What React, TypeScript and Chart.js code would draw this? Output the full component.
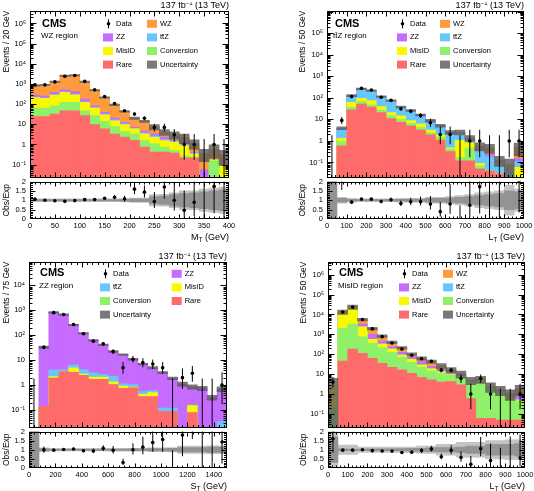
import React, { useEffect, useRef } from "react";
import { Chart, registerables } from "chart.js";

Chart.register(...registerables);

const FONT = "'Liberation Sans', Arial, Helvetica, sans-serif";

const COL = {
  rare: "#ff6a6a",
  conv: "#8ff06a",
  misid: "#f8f800",
  ttz: "#66c7ff",
  zz: "#c66bff",
  wz: "#ff9a3d",
  unc: "rgba(92,92,92,0.82)",
  bandOut: "#c4c4c4",
  bandIn: "#939393",
};

// ---------------- WZ region (M_T, 20 GeV bins) ----------------
const wzCenters = [10, 30, 50, 70, 90, 110, 130, 150, 170, 190, 210, 230, 250, 270, 290, 310, 330, 350, 370, 390];
const wzXLabels = [0, 50, 100, 150, 200, 250, 300, 350, 400];
const wzData = [900, 900, 1270, 2400, 2650, 1340, 510, 237, 107, 47, 32, 20, 7, 7, 3, 1, 1, 0, 1, 0];
const wzRare = [24, 24, 32, 47, 47, 27, 9.7, 5.9, 3.3, 2.3, 1.6, 0.74, 0.42, 0.42, 0.37, 0.22, 0.22, 0.005, 0.005, 0.005];
const wzConv = [40, 40, 50, 75, 75, 20, 17, 8, 4.4, 2.2, 1.8, 0.83, 0.66, 0.32, 0.14, 0.05, 0.02, 0, 0.15, 0.01];
const wzMisid = [150, 130, 200, 260, 168, 75, 37, 16, 7.3, 5.2, 2.5, 1.8, 1.2, 0.8, 0.8, 0.6, 0.1, 0, 0.02, 0.07];
const wzTtz = [6, 6, 8, 10, 10, 6, 4, 2, 1.5, 1, 0.5, 0.4, 0.3, 0.2, 0.15, 0.1, 0.03, 0, 0, 0];
const wzZz = [60, 50, 90, 120, 120, 50, 15, 7, 4, 2, 0.7, 0.8, 0.8, 0.56, 0.25, 0.3, 0.05, 0.05, 0, 0.02];
const wzWz = [570, 650, 920, 2040, 2280, 1120, 410, 176, 72, 31, 13, 9.4, 4.1, 1.8, 1.3, 0.9, 0.7, 0.3, 0.4, 0.2];
const wzUncOut = [0.08, 0.07, 0.07, 0.07, 0.07, 0.07, 0.07, 0.08, 0.08, 0.09, 0.12, 0.12, 0.3, 0.32, 0.4, 0.5, 0.5, 0.6, 0.65, 0.7];
const wzUncIn = [0.04, 0.03, 0.03, 0.03, 0.03, 0.03, 0.03, 0.04, 0.04, 0.05, 0.08, 0.08, 0.2, 0.22, 0.3, 0.35, 0.4, 0.45, 0.5, 0.55];

// ---------------- ttZ region (L_T, 50 GeV bins) ----------------
const ltCenters = [25, 75, 125, 175, 225, 275, 325, 375, 425, 475, 525, 575, 625, 675, 725, 775, 825, 875, 925, 975];
const ltXLabels = [0, 100, 200, 300, 400, 500, 600, 700, 800, 900, 1000];
const tzData = [0, 9, 115, 278, 233, 107, 77, 31, 24, 15, 7, 2, 2, 0, 1, 1, 0, 0, 1, 1];
const tzRare = [0, 0.6, 28, 52, 37, 21, 11, 7.4, 5, 3.2, 1.9, 1.1, 0.32, 0.12, 0.12, 0.05, 0.04, 0.03, 0.01, 0];
const tzConv = [0, 0.37, 9, 15, 10, 6, 4, 2.6, 1.6, 1.1, 0.5, 0.4, 0.1, 0.05, 0.35, 0.02, 0, 0, 0, 0];
const tzMisid = [0, 0.36, 26, 29, 28, 13, 6, 4.5, 2.2, 1.9, 0.8, 0.4, 0.06, 0.9, 0.35, 0.02, 0, 0, 0, 0.06];
const tzTtz = [0, 2.4, 60, 155, 137, 70, 50, 21, 16, 9.2, 5.1, 3.0, 1.8, 1.2, 0.4, 0.25, 0.15, 0.06, 0.03, 0.05];
const tzZz = [0, 0.05, 2, 4, 3, 2, 1.5, 0.7, 0.5, 0.3, 0.2, 0.1, 0.07, 0.1, 0.03, 0.04, 0.04, 0, 0, 0.04];
const tzWz = [0, 0.12, 3, 7, 5, 3, 2.5, 1.3, 0.8, 0.5, 0.3, 0.1, 0.15, 0.2, 0.12, 0.2, 0.25, 0.04, 0.04, 0.35];
const tzUncOut = [1.5, 0.15, 0.1, 0.08, 0.08, 0.08, 0.08, 0.1, 0.1, 0.1, 0.15, 0.15, 0.2, 0.25, 0.3, 0.4, 0.45, 0.5, 0.8, 0.6];
const tzUncIn = [1.5, 0.1, 0.05, 0.04, 0.04, 0.04, 0.05, 0.05, 0.06, 0.06, 0.1, 0.1, 0.12, 0.15, 0.2, 0.25, 0.3, 0.35, 0.5, 0.45];

// ---------------- ZZ region (S_T, 75 GeV bins) ----------------
const stCenters = [37.5, 112.5, 187.5, 262.5, 337.5, 412.5, 487.5, 562.5, 637.5, 712.5, 787.5, 862.5, 937.5, 1012.5, 1087.5, 1162.5, 1237.5, 1312.5, 1387.5, 1462.5];
const stXLabels = [0, 200, 400, 600, 800, 1000, 1200, 1400];
const zzData = [0, 33, 810, 680, 270, 115, 58, 45, 22, 5, 11, 8, 7, 5, 0, 2, 3, 0, 0, 1];
const zzRare = [0, 0.14, 1.9, 3.5, 3.3, 2.5, 1.7, 1.7, 1.06, 0.74, 0.78, 0.35, 0.35, 0.09, 0.09, 0.005, 0.08, 0.01, 0.01, 0.015];
const zzConv = [0, 0, 0, 0, 0, 0, 0, 0, 0, 0, 0, 0, 0, 0, 0, 0, 0, 0, 0, 0];
const zzMisid = [0, 0, 0.3, 0, 1.6, 0.3, 0.4, 0.4, 0.3, 0.17, 0.05, 0.08, 0.15, 0, 0, 0, 0.07, 0, 0, 0];
const zzTtz = [0, 0, 1.8, 0.6, 1.7, 1.4, 1.0, 0.6, 0.9, 0.22, 0.23, 0.12, 0.1, 0.03, 0.03, 0, 0.01, 0, 0.01, 0.02];
const zzZz = [0, 33, 825, 666, 253, 117, 59, 39, 20.3, 15.6, 9.94, 6.45, 4.4, 3.08, 1.78, 1.1, 0.7, 0.74, 0.3, 0.665];
const zzUncOut = [1.5, 0.1, 0.07, 0.07, 0.07, 0.07, 0.07, 0.07, 0.08, 0.08, 0.08, 0.08, 0.1, 0.1, 0.12, 0.2, 0.2, 0.2, 0.22, 0.22];
const zzUncIn = [1.5, 0.06, 0.03, 0.03, 0.03, 0.03, 0.04, 0.04, 0.04, 0.04, 0.05, 0.05, 0.06, 0.06, 0.08, 0.12, 0.12, 0.12, 0.14, 0.14];

// ---------------- MisID region (L_T, 50 GeV bins) ----------------
const miData = [4, 13200, 23500, 5600, 1900, 770, 370, 183, 90, 60, 45, 16, 16, 6, 1, 6, 1, 0, 0, 1];
const miRare = [0, 46, 185, 112, 63, 35, 22, 16.5, 11, 7, 5.2, 4.0, 4.3, 2.9, 0.6, 0.06, 0.06, 0.05, 0.05, 0.05];
const miConv = [0.2, 1950, 3100, 650, 290, 180, 104, 53, 29, 15, 9.5, 7, 5.0, 4.7, 3.2, 4.5, 1.9, 1.3, 0.55, 0.4];
const miMisid = [2.3, 11400, 20500, 1640, 205, 115, 59, 23, 16, 7, 3.8, 2, 0.6, 0.4, 0.3, 0.2, 0.05, 0.03, 0, 0.05];
const miTtz = [0, 5, 10, 20, 15, 8, 5, 3, 2, 2, 1, 0.8, 0.4, 0.2, 0.1, 0.1, 0.05, 0.03, 0, 0.05];
const miZz = [0, 20, 50, 880, 425, 122, 50, 30, 18, 12, 4.5, 3, 0.9, 0.6, 0.3, 0.2, 0.1, 0.04, 0.02, 0.45];
const miWz = [0, 80, 150, 2300, 1000, 365, 160, 90, 28, 20, 19, 9.2, 5.3, 1.6, 0.5, 0.6, 0.3, 0.2, 0.45, 0.8];
const miUncOut = [1.5, 0.25, 0.25, 0.15, 0.15, 0.15, 0.15, 0.15, 0.15, 0.2, 0.2, 0.3, 0.3, 0.4, 0.4, 0.4, 0.5, 0.5, 0.55, 0.55];
const miUncIn = [0.7, 0.05, 0.04, 0.04, 0.05, 0.05, 0.05, 0.06, 0.08, 0.08, 0.1, 0.12, 0.12, 0.15, 0.2, 0.2, 0.3, 0.3, 0.3, 0.35];

const TTZ = "tt\u0304Z";

// Poisson (Garwood 68%) intervals for small counts
const GARWOOD_LO = [0, 0.173, 0.708, 1.367, 2.086, 2.84, 3.62, 4.419, 5.232, 6.057, 6.891];
const GARWOOD_HI = [1.841, 3.3, 4.638, 5.918, 7.163, 8.382, 9.584, 10.77, 11.95, 13.11, 14.27];
function poisson(n: number): [number, number] {
  if (n <= 10) return [GARWOOD_LO[n], GARWOOD_HI[n]];
  const s = Math.sqrt(n + 0.25);
  return [n + 0.5 - s, n + 0.5 + s];
}

const LOW = 1e-5;
const PADT = 8;
const PADB = 8;
const PADR = 14;
const XAXH = 24;

type Comp = { label: string; color: string; values: number[] };
type LegItem = { label: string; kind: "data" | "box"; color?: string };

const legStd: LegItem[] = [
  { label: "Data", kind: "data" },
  { label: "WZ", kind: "box", color: COL.wz },
  { label: "ZZ", kind: "box", color: COL.zz },
  { label: TTZ, kind: "box", color: COL.ttz },
  { label: "MisID", kind: "box", color: COL.misid },
  { label: "Conversion", kind: "box", color: COL.conv },
  { label: "Rare", kind: "box", color: COL.rare },
  { label: "Uncertainty", kind: "box", color: COL.unc },
];
const legZZ: LegItem[] = [
  { label: "Data", kind: "data" },
  { label: "ZZ", kind: "box", color: COL.zz },
  { label: TTZ, kind: "box", color: COL.ttz },
  { label: "MisID", kind: "box", color: COL.misid },
  { label: "Conversion", kind: "box", color: COL.conv },
  { label: "Rare", kind: "box", color: COL.rare },
  { label: "Uncertainty", kind: "box", color: COL.unc },
];

const PANELS: any[] = [
  {
    id: "wz", centers: wzCenters, xMin: 0, xMax: 400, xMajor: wzXLabels, xMinorStep: 10,
    yMin: 0.023, yMax: 4.4e6, yLabels: [0.1, 1, 10, 100, 1e3, 1e4, 1e5, 1e6],
    comps: [
      { label: "Rare", color: COL.rare, values: wzRare },
      { label: "Conversion", color: COL.conv, values: wzConv },
      { label: "MisID", color: COL.misid, values: wzMisid },
      { label: TTZ, color: COL.ttz, values: wzTtz },
      { label: "ZZ", color: COL.zz, values: wzZz },
      { label: "WZ", color: COL.wz, values: wzWz },
    ],
    data: wzData, uncOut: wzUncOut, uncIn: wzUncIn,
    frame: { l: 30, r: 229, t: 10, b: 178 }, rFrame: { t: 181, b: 219 }, cl: 0,
    yTitle: "Events / 20 GeV", xTitle: ["M", "T", " (GeV)"], region: "WZ region",
    legend: legStd, legendX: [73, 117], rowY0: 13.3, cmsX: 12, cmsY: 13.3, regionX: 11, regionY: 25,
  },
  {
    id: "ttz", centers: ltCenters, xMin: 0, xMax: 1000, xMajor: ltXLabels, xMinorStep: 20,
    yMin: 0.02, yMax: 1.15e6, yLabels: [0.1, 1, 10, 100, 1e3, 1e4, 1e5],
    comps: [
      { label: "Rare", color: COL.rare, values: tzRare },
      { label: "Conversion", color: COL.conv, values: tzConv },
      { label: "MisID", color: COL.misid, values: tzMisid },
      { label: TTZ, color: COL.ttz, values: tzTtz },
      { label: "ZZ", color: COL.zz, values: tzZz },
      { label: "WZ", color: COL.wz, values: tzWz },
    ],
    data: tzData, uncOut: tzUncOut, uncIn: tzUncIn,
    frame: { l: 327, r: 524, t: 10, b: 178 }, rFrame: { t: 181, b: 219 }, cl: 296,
    yTitle: "Events / 50 GeV", xTitle: ["L", "T", " (GeV)"], region: TTZ + " region",
    legend: legStd, legendX: [70, 113], rowY0: 13.3, cmsX: 8, cmsY: 13.3, regionX: 6, regionY: 25,
  },
  {
    id: "zz", centers: stCenters, xMin: 0, xMax: 1500, xMajor: stXLabels, xMinorStep: 40,
    yMin: 0.02, yMax: 9.1e4, yLabels: [0.1, 1, 10, 100, 1e3, 1e4],
    comps: [
      { label: "Rare", color: COL.rare, values: zzRare },
      { label: "Conversion", color: COL.conv, values: zzConv },
      { label: "MisID", color: COL.misid, values: zzMisid },
      { label: TTZ, color: COL.ttz, values: zzTtz },
      { label: "ZZ", color: COL.zz, values: zzZz },
    ],
    data: zzData, uncOut: zzUncOut, uncIn: zzUncIn,
    frame: { l: 29, r: 227, t: 261, b: 428 }, rFrame: { t: 431, b: 468 }, cl: 0,
    yTitle: "Events / 75 GeV", xTitle: ["S", "T", " (GeV)"], region: "ZZ region",
    legend: legZZ, legendX: [71, 142.7], rowY0: 12.3, cmsX: 11, cmsY: 11.5, regionX: 10, regionY: 24,
  },
  {
    id: "misid", centers: ltCenters, xMin: 0, xMax: 1000, xMajor: ltXLabels, xMinorStep: 20,
    yMin: 0.021, yMax: 4.6e6, yLabels: [0.1, 1, 10, 100, 1e3, 1e4, 1e5, 1e6],
    comps: [
      { label: "Rare", color: COL.rare, values: miRare },
      { label: "Conversion", color: COL.conv, values: miConv },
      { label: "MisID", color: COL.misid, values: miMisid },
      { label: TTZ, color: COL.ttz, values: miTtz },
      { label: "ZZ", color: COL.zz, values: miZz },
      { label: "WZ", color: COL.wz, values: miWz },
    ],
    data: miData, uncOut: miUncOut, uncIn: miUncIn,
    frame: { l: 328, r: 525, t: 261, b: 428 }, rFrame: { t: 431, b: 468 }, cl: 297,
    yTitle: "Events / 50 GeV", xTitle: ["L", "T", " (GeV)"], region: "MisID region",
    legend: legStd, legendX: [71, 115], rowY0: 12.3, cmsX: 11, cmsY: 11.5, regionX: 10, regionY: 24,
  },
];

const SUP: Record<string, string> = { "-": "\u207B", "0": "\u2070", "1": "\u00B9", "2": "\u00B2", "3": "\u00B3", "4": "\u2074", "5": "\u2075", "6": "\u2076", "7": "\u2077", "8": "\u2078", "9": "\u2079" };
function logLabel(v: number) {
  const e = Math.round(Math.log10(v));
  if (e === 0) return "1";
  if (e === 1) return "10";
  return "10" + String(e).split("").map((c) => SUP[c]).join("");
}

function totals(p: any): number[] {
  return p.centers.map((_: number, i: number) => p.comps.reduce((s: number, c: Comp) => s + c.values[i], 0));
}

function framePlugin(p: any, kind: "main" | "ratio") {
  return {
    id: "hep" + kind,
    afterDraw(chart: any) {
      const { ctx, chartArea: a } = chart;
      const xs = chart.scales.x;
      const ys = chart.scales.y;
      ctx.save();
      ctx.strokeStyle = "#000";
      ctx.lineWidth = 1;
      const L = Math.round(a.left) + 0.5;
      const R = Math.round(a.right) - 0.5;
      const T = Math.round(a.top) + 0.5;
      const B = Math.round(a.bottom) - 0.5;
      ctx.beginPath();
      const vt = (v: number, len: number) => {
        const px = Math.round(xs.getPixelForValue(v)) + 0.5;
        ctx.moveTo(px, B); ctx.lineTo(px, B - len);
        ctx.moveTo(px, T); ctx.lineTo(px, T + len);
      };
      const ht = (v: number, len: number) => {
        const py = Math.round(ys.getPixelForValue(v)) + 0.5;
        ctx.moveTo(L, py); ctx.lineTo(L + len, py);
        ctx.moveTo(R, py); ctx.lineTo(R - len, py);
      };
      const nMinor = Math.round((p.xMax - p.xMin) / p.xMinorStep);
      for (let k = 1; k < nMinor; k++) {
        const v = p.xMin + k * p.xMinorStep;
        const major = p.xMajor.some((m: number) => Math.abs(m - v) < 1e-6);
        if (kind === "main") vt(v, major ? 5 : 2.5);
        else vt(v, major ? 4 : 2);
      }
      p.xMajor.forEach((m: number) => {
        if (m > p.xMin && m < p.xMax && Math.abs(((m - p.xMin) / p.xMinorStep) % 1) > 1e-6) vt(m, kind === "main" ? 5 : 4);
      });
      if (kind === "main") {
        const e0 = Math.floor(Math.log10(p.yMin));
        const e1 = Math.ceil(Math.log10(p.yMax));
        for (let e = e0; e <= e1; e++) {
          for (let k = 1; k <= 9; k++) {
            const v = k * Math.pow(10, e);
            if (v > p.yMin && v < p.yMax) ht(v, k === 1 ? 6 : 3);
          }
        }
      } else {
        for (let k = 1; k < 20; k++) {
          const v = k / 10;
          ht(v, k % 5 === 0 ? 5 : 2.5);
        }
      }
      ctx.stroke();
      ctx.strokeRect(L, T, R - L, B - T);

      ctx.fillStyle = "#000";
      ctx.textAlign = "left";
      if (kind === "main") {
        // luminosity label
        ctx.textBaseline = "alphabetic";
        const f9 = `9px ${FONT}`;
        const f6 = `6px ${FONT}`;
        ctx.font = f9;
        const w1 = ctx.measureText("137 fb").width;
        const w3 = ctx.measureText(" (13 TeV)").width;
        ctx.font = f6;
        const w2 = ctx.measureText("\u22121").width;
        const x0 = a.right - (w1 + w2 + w3);
        const base = a.top - 2.5;
        ctx.font = f9;
        ctx.fillText("137 fb", x0, base);
        ctx.font = f6;
        ctx.fillText("\u22121", x0 + w1, base - 3.5);
        ctx.font = f9;
        ctx.fillText(" (13 TeV)", x0 + w1 + w2, base);

        ctx.textBaseline = "middle";
        ctx.font = `bold 11px ${FONT}`;
        ctx.fillText("CMS", a.left + p.cmsX, a.top + p.cmsY);
        ctx.font = `8px ${FONT}`;
        ctx.fillText(p.region, a.left + p.regionX, a.top + p.regionY);

        ctx.font = `7.5px ${FONT}`;
        p.legend.forEach((it: LegItem, i: number) => {
          const col = i % 2;
          const row = Math.floor(i / 2);
          const bx = a.left + p.legendX[col];
          const by = a.top + p.rowY0 + row * 13.6;
          if (it.kind === "data") {
            ctx.beginPath();
            ctx.moveTo(bx + 5.5, by - 4.5);
            ctx.lineTo(bx + 5.5, by + 4.5);
            ctx.stroke();
            ctx.beginPath();
            ctx.arc(bx + 5.5, by, 1.8, 0, Math.PI * 2);
            ctx.fill();
          } else {
            ctx.fillStyle = it.color;
            ctx.fillRect(bx, by - 4, 10, 8);
            ctx.fillStyle = "#000";
          }
          ctx.fillText(it.label, bx + 13, by);
        });
      } else {
        ctx.textBaseline = "alphabetic";
        ctx.font = `9px ${FONT}`;
        const wm = ctx.measureText(p.xTitle[0]).width;
        const wr = ctx.measureText(p.xTitle[2]).width;
        ctx.font = `6.5px ${FONT}`;
        const ws = ctx.measureText(p.xTitle[1]).width;
        const x0 = a.right - (wm + ws + wr);
        const base = a.bottom + 21;
        ctx.font = `9px ${FONT}`;
        ctx.fillText(p.xTitle[0], x0, base);
        ctx.font = `6.5px ${FONT}`;
        ctx.fillText(p.xTitle[1], x0 + wm, base + 2);
        ctx.font = `9px ${FONT}`;
        ctx.fillText(p.xTitle[2], x0 + wm + ws, base);
      }
      ctx.restore();
    },
  };
}

const tickFont = { family: FONT, size: 7.5 };
const titleFont = { family: FONT, size: 8.5 };

function barDs(data: any[], color: string, extra: any = {}) {
  return {
    type: "bar",
    data,
    backgroundColor: color,
    borderWidth: 0,
    grouped: false,
    barPercentage: 1,
    categoryPercentage: 1,
    ...extra,
  };
}

function buildMain(canvas: HTMLCanvasElement, p: any) {
  const tot = totals(p);
  const datasets: any[] = [];
  datasets.push({
    type: "scatter",
    data: p.centers.map((x: number, i: number) => ({ x, y: p.data[i] })).filter((d: any) => d.y > 0),
    pointRadius: 1.8,
    pointBackgroundColor: "#000",
    pointBorderWidth: 0,
    showLine: false,
  });
  datasets.push(
    barDs(
      p.centers.map((x: number, i: number) => {
        const [lo, hi] = poisson(p.data[i]);
        return { x, y: [Math.max(lo, LOW), hi] };
      }),
      "#000",
      { maxBarThickness: 1, inflateAmount: 0 }
    )
  );
  datasets.push(
    barDs(
      p.centers
        .map((x: number, i: number) => ({ x, y: [Math.max(tot[i] * (1 - p.uncOut[i]), LOW), tot[i] * (1 + p.uncOut[i])] }))
        .filter((_: any, i: number) => tot[i] > 0),
      COL.unc
    )
  );
  const cum: number[][] = [];
  p.comps.forEach((c: Comp, k: number) => {
    cum.push(c.values.map((v: number, i: number) => v + (k > 0 ? cum[k - 1][i] : 0)));
  });
  p.comps.forEach((c: Comp, k: number) => {
    datasets.push(barDs(p.centers.map((x: number, i: number) => ({ x, y: cum[k][i] })), c.color));
  });

  return new Chart(canvas, {
    type: "bar",
    data: { datasets },
    options: {
      animation: false,
      responsive: false,
      events: [],
      layout: { padding: { left: 0, right: PADR, top: PADT, bottom: PADB } },
      plugins: { legend: { display: false }, tooltip: { enabled: false } },
      scales: {
        x: {
          type: "linear",
          min: p.xMin,
          max: p.xMax,
          offset: false,
          display: false,
          afterBuildTicks: (s: any) => { s.ticks = p.xMajor.map((v: number) => ({ value: v })); },
        },
        y: {
          type: "logarithmic",
          min: p.yMin,
          max: p.yMax,
          grid: { display: false, drawTicks: false },
          border: { display: false },
          afterBuildTicks: (s: any) => { s.ticks = p.yLabels.map((v: number) => ({ value: v })); },
          afterFit: (s: any) => { s.width = p.frame.l - p.cl; },
          ticks: { padding: 4, color: "#000", font: tickFont, autoSkip: false, callback: (v: any) => logLabel(Number(v)) },
          title: { display: true, text: p.yTitle, align: "end", color: "#000", font: titleFont, padding: { top: 2, bottom: 0 } },
        },
      },
    } as any,
    plugins: [framePlugin(p, "main")],
  } as any);
}

function buildRatio(canvas: HTMLCanvasElement, p: any) {
  const tot = totals(p);
  const datasets: any[] = [];
  datasets.push({
    type: "scatter",
    data: p.centers
      .map((x: number, i: number) => ({ x, y: tot[i] > 0 ? p.data[i] / tot[i] : 0, ok: tot[i] > 0 && p.data[i] > 0 }))
      .filter((d: any) => d.ok),
    pointRadius: 1.8,
    pointBackgroundColor: "#000",
    pointBorderWidth: 0,
    showLine: false,
  });
  datasets.push(
    barDs(
      p.centers
        .map((x: number, i: number) => {
          const [lo, hi] = poisson(p.data[i]);
          return { x, y: tot[i] > 0 ? [lo / tot[i], hi / tot[i]] : [0, 0] };
        })
        .filter((_: any, i: number) => tot[i] > 0),
      "#000",
      { maxBarThickness: 1, inflateAmount: 0 }
    )
  );
  datasets.push(barDs(p.centers.map((x: number, i: number) => ({ x, y: [1 - p.uncIn[i], 1 + p.uncIn[i]] })), COL.bandIn));
  datasets.push(barDs(p.centers.map((x: number, i: number) => ({ x, y: [1 - p.uncOut[i], 1 + p.uncOut[i]] })), COL.bandOut));

  return new Chart(canvas, {
    type: "bar",
    data: { datasets },
    options: {
      animation: false,
      responsive: false,
      events: [],
      layout: { padding: { left: 0, right: PADR, top: PADT, bottom: 0 } },
      plugins: { legend: { display: false }, tooltip: { enabled: false } },
      scales: {
        x: {
          type: "linear",
          min: p.xMin,
          max: p.xMax,
          offset: false,
          grid: { display: false, drawTicks: false },
          border: { display: false },
          afterBuildTicks: (s: any) => { s.ticks = p.xMajor.map((v: number) => ({ value: v })); },
          afterFit: (s: any) => { s.height = XAXH; },
          ticks: { padding: 2, color: "#000", font: tickFont, autoSkip: false, maxRotation: 0, minRotation: 0, callback: (v: any) => String(v) },
        },
        y: {
          type: "linear",
          min: 0,
          max: 2,
          grid: { display: false, drawTicks: false },
          border: { display: false },
          afterBuildTicks: (s: any) => { s.ticks = [0, 0.5, 1, 1.5, 2].map((v) => ({ value: v })); },
          afterFit: (s: any) => { s.width = p.frame.l - p.cl; },
          ticks: { padding: 4, color: "#000", font: tickFont, autoSkip: false, callback: (v: any) => String(v) },
          title: { display: true, text: "Obs/Exp", align: "center", color: "#000", font: titleFont, padding: { top: 2, bottom: 0 } },
        },
      },
    } as any,
    plugins: [framePlugin(p, "ratio")],
  } as any);
}

function PanelCharts({ p }: { p: any }) {
  const mainRef = useRef<HTMLCanvasElement>(null);
  const ratioRef = useRef<HTMLCanvasElement>(null);
  useEffect(() => {
    const m = buildMain(mainRef.current as HTMLCanvasElement, p);
    const r = buildRatio(ratioRef.current as HTMLCanvasElement, p);
    return () => {
      m.destroy();
      r.destroy();
    };
  }, [p]);
  const w = p.frame.r + PADR - p.cl;
  const mTop = p.frame.t - PADT;
  const mH = p.frame.b + PADB - mTop;
  const rTop = p.rFrame.t - PADT;
  const rH = p.rFrame.b + XAXH - rTop;
  return (
    <>
      <canvas ref={mainRef} width={w} height={mH} style={{ position: "absolute", left: p.cl, top: mTop, width: w, height: mH }} />
      <canvas ref={ratioRef} width={w} height={rH} style={{ position: "absolute", left: p.cl, top: rTop, width: w, height: rH }} />
    </>
  );
}

export default function App() {
  return (
    <div style={{ position: "fixed", left: 0, top: 0, width: 534, height: 491, overflow: "hidden", background: "#fff" }}>
      {PANELS.map((p) => (
        <PanelCharts key={p.id} p={p} />
      ))}
    </div>
  );
}
